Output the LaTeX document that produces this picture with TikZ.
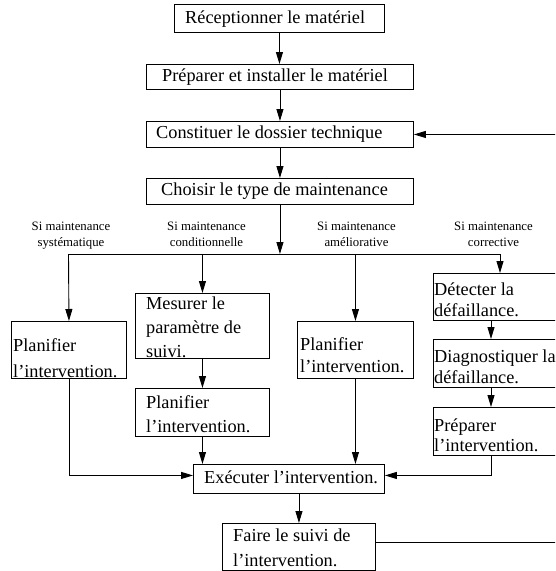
\documentclass[tikz,border=0pt]{standalone}
\usepackage{fontspec}
\setmainfont{Liberation Serif}
\usetikzlibrary{arrows.meta}
\begin{document}
\begin{tikzpicture}[x=1pt,y=-1pt,
  bx/.style 2 args={draw, line width=0.9pt, anchor=north west, inner sep=0pt,
    minimum width=#1, minimum height=#2},
  tx/.style={inner sep=0pt, align=left, font=\fontsize{18.3}{#1}\selectfont},
  tx/.default=23pt,
  lab/.style={inner sep=0pt, align=center, anchor=north,
    font=\fontsize{12.8}{16}\selectfont},
  ln/.style={line width=0.9pt},
  arr/.style={line width=0.9pt, -{Triangle[length=12pt,width=7pt]}}
]
\useasboundingbox (0,0) rectangle (555,571);
\clip (0,0) rectangle (555,571);

% top chain
\node[bx={210pt}{28pt}] (b1) at (174,4) {};
\node[tx, anchor=base west] (b1t) at (185,23) {Réceptionner le matériel};
\node[bx={267pt}{25pt}] (b2) at (146,64) {};
\node[tx, anchor=base west] (b2t) at (162,81) {Préparer et installer le matériel};
\node[bx={267pt}{26pt}] (b3) at (146,121) {};
\node[tx, anchor=base west] (b3t) at (156,138) {Constituer le dossier technique};
\node[bx={267pt}{26pt}] (b4) at (146,178) {};
\node[tx, anchor=base west] (b4t) at (161,195) {Choisir le type de maintenance};

% labels
\node[lab] (l1) at (71,221.5) {Si maintenance\\systématique};
\node[lab] (l2) at (206.5,221.5) {Si maintenance\\conditionnelle};
\node[lab] (l3) at (356.5,221.5) {Si maintenance\\améliorative};
\node[lab] (l4) at (493.5,221.5) {Si maintenance\\corrective};

% branch boxes
\node[bx={115pt}{57pt}] (p1) at (11,321) {};
\node[tx=26pt, anchor=south west] (p1t) at ([xshift=2pt,yshift=1pt]p1.south west) {Planifier\\l’intervention.};
\node[bx={134pt}{65pt}] (m) at (135,293) {};
\node[tx=24pt, anchor=south west] (mt) at ([xshift=11pt,yshift=0.5pt]m.south west) {Mesurer le\\paramètre de\\suivi.};
\node[bx={134pt}{48pt}] (p2) at (135,388) {};
\node[tx=23.5pt, anchor=south west] (p2t) at ([xshift=11pt,yshift=4pt]p2.south west) {Planifier\\l’intervention.};
\node[bx={116pt}{57pt}] (p3) at (297,321) {};
\node[tx=22pt, anchor=south west] (p3t) at ([xshift=3pt,yshift=6pt]p3.south west) {Planifier\\l’intervention.};
\node[bx={170pt}{47pt}] (d) at (433,273) {};
\node[tx=20.5pt, anchor=south west] (dt) at ([xshift=1pt,yshift=4pt]d.south west) {Détecter la\\défaillance.};
\node[bx={170pt}{48pt}] (g) at (433,339) {};
\node[tx=20.7pt, anchor=south west] (gt) at ([xshift=1pt,yshift=4pt]g.south west) {Diagnostiquer la\\défaillance.};
\node[bx={170pt}{48pt}] (r) at (433,407) {};
\node[tx=20.2pt, anchor=south west] (rt) at ([xshift=1pt,yshift=4pt]r.south west) {Préparer\\l’intervention.};

% bottom
\node[bx={191pt}{29pt}] (e) at (193,464) {};
\node[tx, anchor=base west] (et) at (204,483.5) {Exécuter l’intervention.};
\node[bx={153pt}{47pt}] (f) at (222,523) {};
\node[tx=25pt, anchor=south west] (ft) at ([xshift=11pt,yshift=3.5pt]f.south west) {Faire le suivi de\\l’intervention.};

% helper coordinates
\coordinate (hl) at (68.5,254);
\coordinate (hr) at (500,254);
\coordinate (rx) at (491,0);
\coordinate (fb) at (600,0);

% connectors
\draw[arr] (b1.south) -- (b1.south |- b2.north);
\draw[arr] (b2.south) -- (b2.south |- b3.north);
\draw[arr] (b3.south) -- (b3.south |- b4.north);
\draw[arr] (b4.south) -- (b4.south |- hl);
\draw[ln, line cap=rect] (hl) -- (hr);
\draw[arr] (hl) -- (p1.north);
\draw[arr] (m.north |- hl) -- (m.north);
\draw[arr] (p3.north |- hl) -- (p3.north);
\draw[arr] (hr) -- (hr |- d.north);
\draw[arr] (m.south) -- (p2.north);
\draw[arr] (d.south -| rx) -- (g.north -| rx);
\draw[arr] (g.south -| rx) -- (r.north -| rx);
\draw[arr] (p1.south) |- ([yshift=3.5pt]e.west);
\draw[arr] (p2.south) -- (p2.south |- e.north);
\draw[arr] (p3.south) -- (p3.south |- e.north);
\draw[arr] (r.south -| rx) |- ([yshift=3.5pt]e.east);
\draw[arr] (f.north |- e.south) -- (f.north);
\draw[arr] ([yshift=4.5pt]f.east) -- ([yshift=4.5pt]f.east -| fb) -- (b3.east -| fb) -- (b3.east);
\end{tikzpicture}
\end{document}
